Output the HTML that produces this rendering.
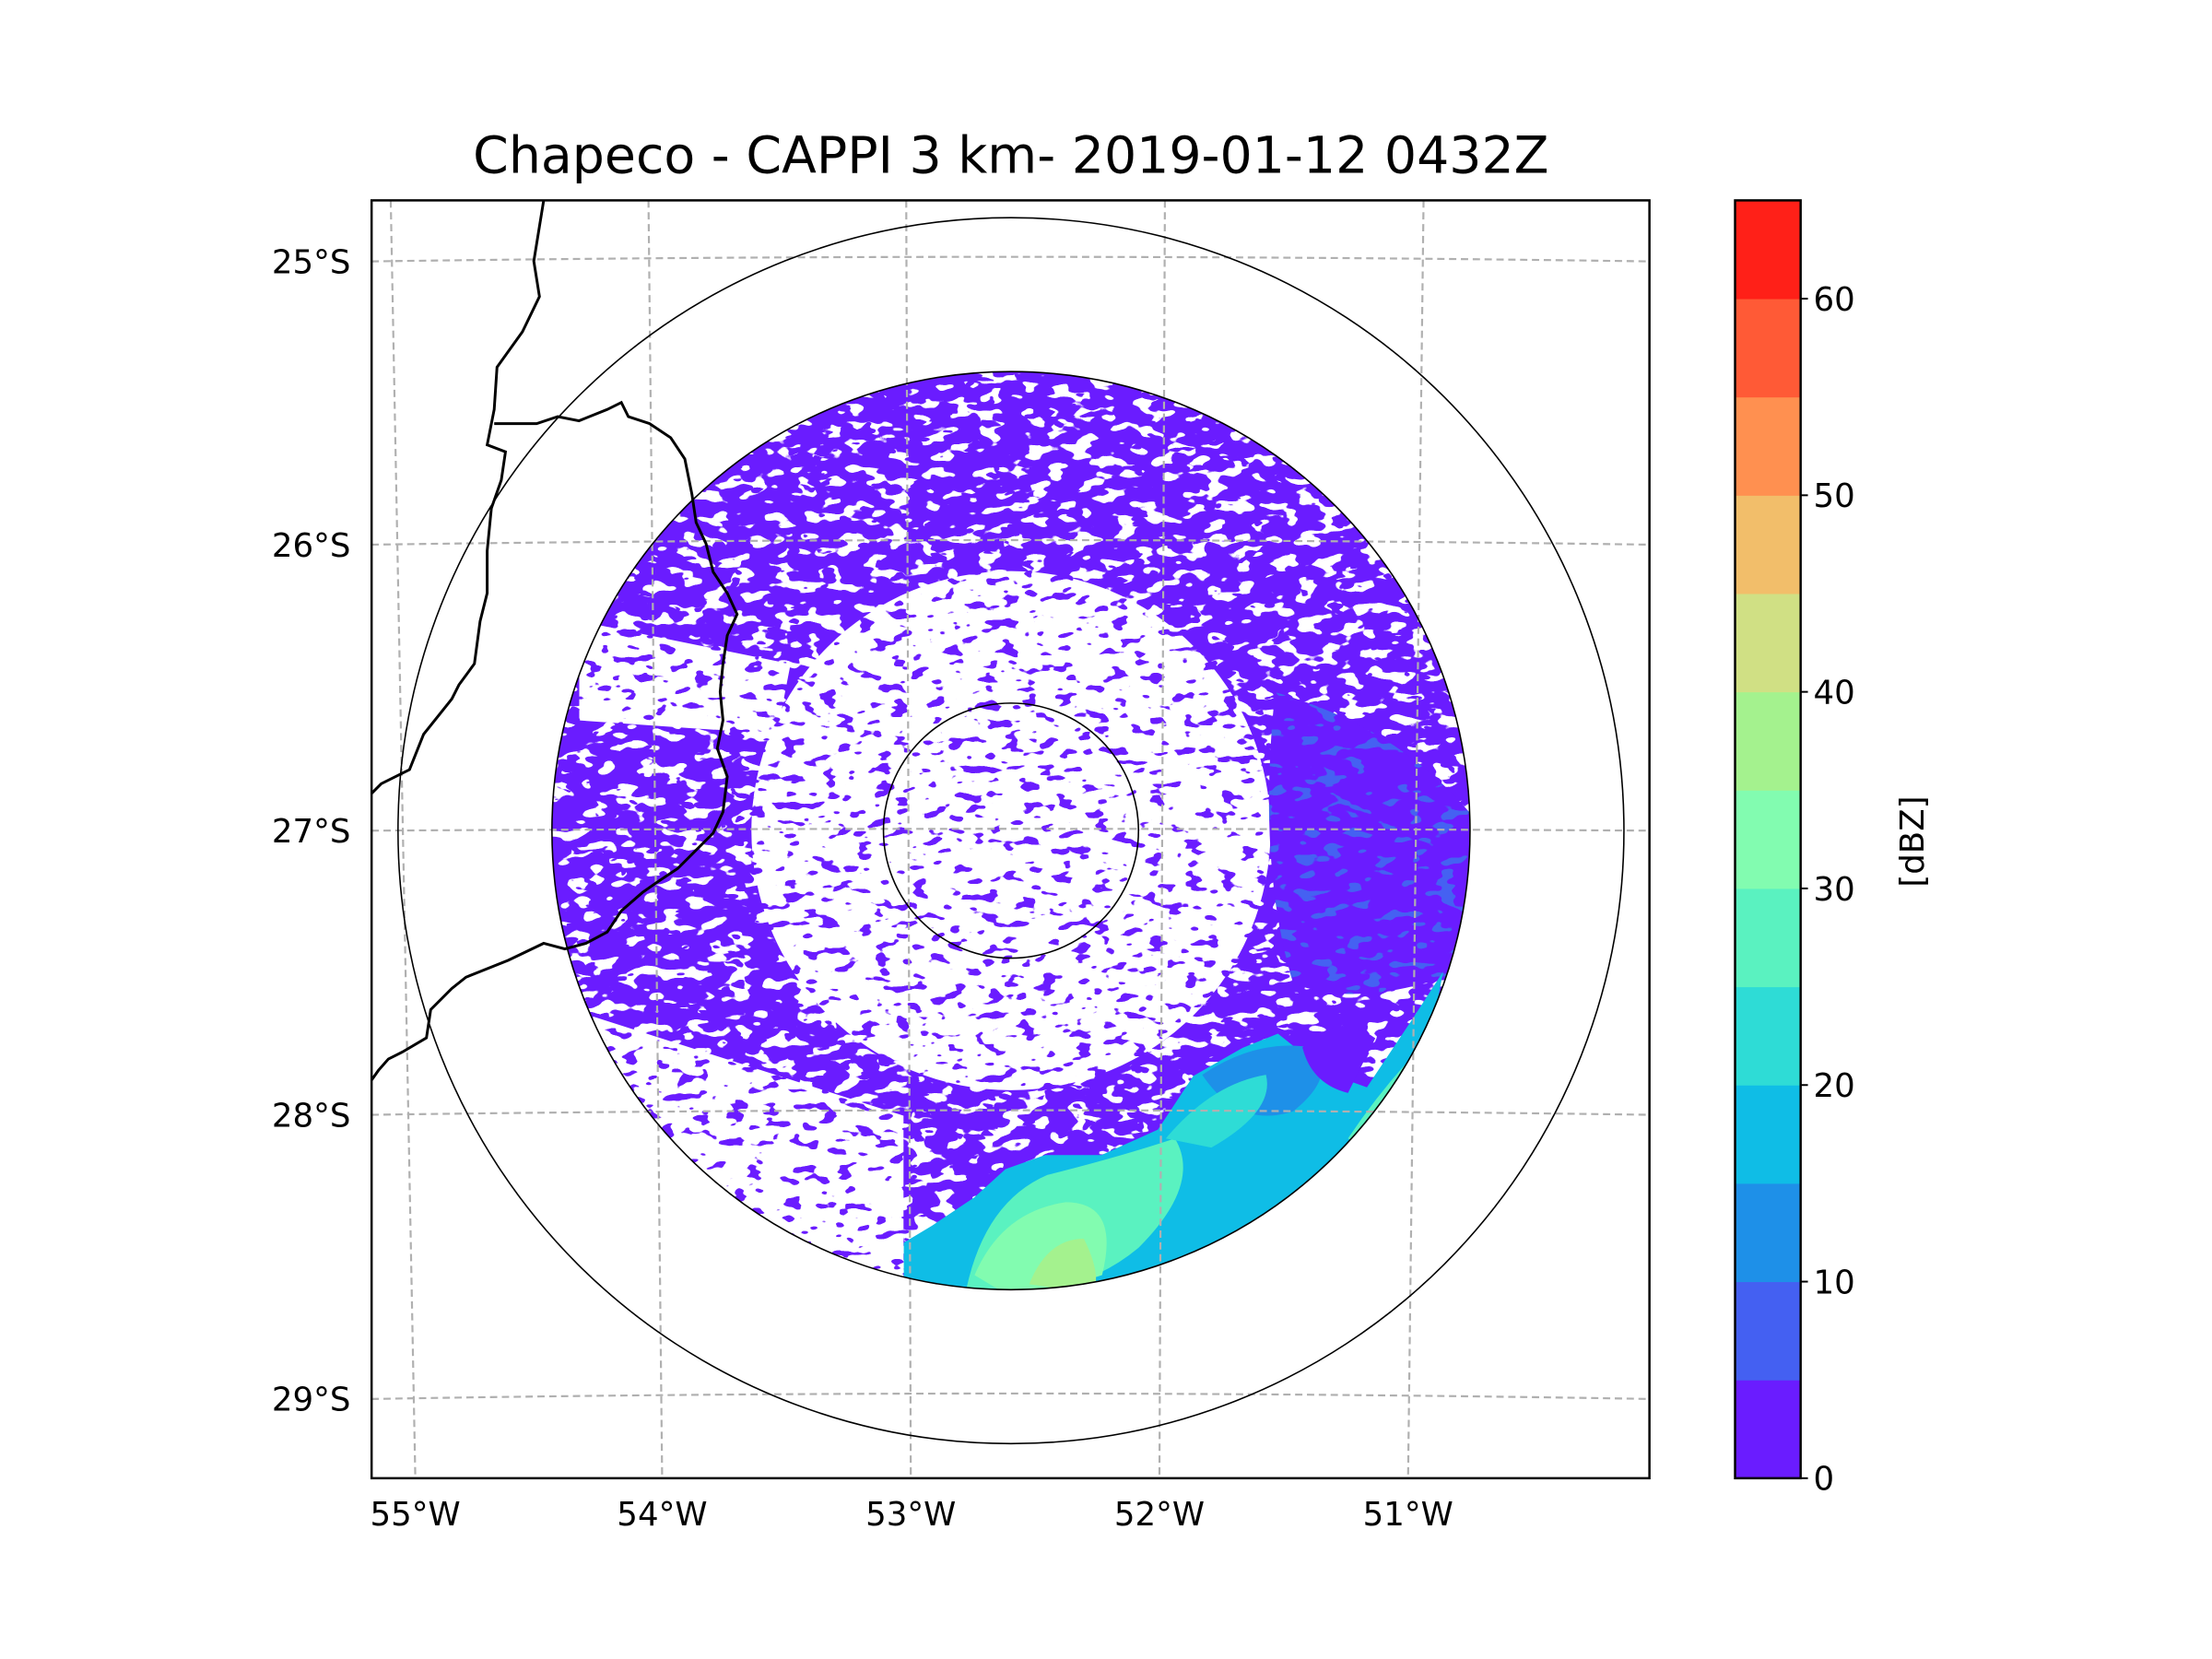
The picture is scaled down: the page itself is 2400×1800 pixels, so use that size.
<!DOCTYPE html>
<html><head><meta charset="utf-8"><style>
html,body{margin:0;padding:0;background:#fff;}
svg{display:block;font-family:"DejaVu Sans","Liberation Sans",sans-serif;}
</style></head><body>
<svg id="fig" width="2400" height="1800" viewBox="0 0 2400 1800">
<defs>
<clipPath id="plotclip"><rect x="408" y="220" width="1403" height="1403"/></clipPath>
<clipPath id="diskclip"><circle cx="1110" cy="912" r="504"/></clipPath>
<filter id="spkLow" x="0" y="0" width="100%" height="100%" color-interpolation-filters="sRGB">
<feTurbulence type="fractalNoise" baseFrequency="0.05 0.1" numOctaves="2" seed="4"/>
<feColorMatrix type="matrix" values="0 0 0 0 0.416  0 0 0 0 0.11  0 0 0 0 1  40 0 0 0 -24.4"/>
</filter>
<filter id="spkHigh" x="0" y="0" width="100%" height="100%" color-interpolation-filters="sRGB">
<feTurbulence type="fractalNoise" baseFrequency="0.04 0.08" numOctaves="2" seed="9"/>
<feColorMatrix type="matrix" values="0 0 0 0 0.416  0 0 0 0 0.11  0 0 0 0 1  40 0 0 0 -16.8"/>
</filter>
<filter id="spkEast" x="0" y="0" width="100%" height="100%" color-interpolation-filters="sRGB">
<feTurbulence type="fractalNoise" baseFrequency="0.04 0.08" numOctaves="2" seed="2"/>
<feColorMatrix type="matrix" values="0 0 0 0 0.27  0 0 0 0 0.38  0 0 0 0 0.95  40 0 0 0 -24"/>
</filter>
<mask id="ringmask">
<circle cx="1110" cy="912" r="504" fill="#fff"/>
<circle cx="1110" cy="912" r="285" fill="#000"/>
<path d="M 636 682 L 868 729 L 853 806 L 636 791 Z" fill="#000"/>
<path d="M 651 1116 L 992 1225 L 992 1420 L 667 1420 Z" fill="#000"/>
</mask>
<clipPath id="eastclip"><path d="M1400 760 Q1540 800 1620 900 L1620 1060 Q1500 1110 1420 1080 Q1380 950 1400 760Z"/></clipPath>
</defs>
<g id="axes" transform="scale(0.9882)"></g>
</svg>
<script>
// colorbar data
const levels = [0,5,10,15,20,25,30,35,40,45,50,55,60,65];
const levelColors = ["#6a1cff","#4460f2","#1e90e8","#0fbde6","#2edcd6","#5af2c0","#82fcb0","#a4f28e","#d0e084","#f2be6a","#ff9050","#ff5a36","#ff2018"];
const cbTicks = [0,10,20,30,40,50,60];
const lonTicks = ["55°W","54°W","53°W","52°W","51°W"];
const latTicks = ["25°S","26°S","27°S","28°S","29°S"];
const NS="http://www.w3.org/2000/svg";
const ax=document.getElementById('axes');
function el(t,a,p){const e=document.createElementNS(NS,t);for(const k in a)e.setAttribute(k,a[k]);(p||ax).appendChild(e);return e;}
const S=1.5504;
el('rect',{x:408,y:220,width:1403,height:1403,fill:'#fff'});
const g=el('g',{'clip-path':'url(#plotclip)'});
const d1=el('g',{'clip-path':'url(#diskclip)'},g);


el('rect',{x:600,y:400,width:1020,height:1020,filter:'url(#spkLow)'},d1);
const d2=el('g',{mask:'url(#ringmask)'},g);


el('rect',{x:600,y:400,width:1020,height:1020,filter:'url(#spkHigh)'},d2);
const d3=el('g',{'clip-path':'url(#diskclip)'},g);
const e0=el('g',{'clip-path':'url(#eastclip)'},d3);
el('rect',{x:1380,y:760,width:240,height:340,fill:'#6a1cff'},e0);
el('rect',{x:1380,y:760,width:240,height:340,filter:'url(#spkEast)'},e0);
const blobPts=[[640,880],[660,868],[690,848],[712,828],[740,818],[780,818],[820,800],[845,762],[880,742],[905,732],[940,760],[968,770],[1000,722],[1022,688],[1012,740],[990,790],[950,840],[900,880],[850,900],[780,912],[716,918],[660,913],[640,908]];
const bp='M'+blobPts.map(p=>(p[0]*S).toFixed(1)+' '+(p[1]*S).toFixed(1)).join(' L')+'Z';
const bl=el('path',{d:bp,fill:'#0fbde6'},d3);


el('path',{d:'M1320 1180 Q1380 1140 1440 1150 Q1470 1180 1420 1220 Q1360 1240 1320 1180Z',fill:'#1e90e8'},d3);
el('path',{d:'M1060 1420 Q1080 1320 1150 1290 Q1230 1270 1290 1250 Q1320 1300 1250 1370 Q1190 1420 1110 1416Z',fill:'#5af2c0'},d3);
el('path',{d:'M1070 1400 Q1100 1330 1170 1320 Q1230 1320 1210 1400 Q1150 1420 1100 1418Z',fill:'#82fcb0'},d3);
el('path',{d:'M1130 1410 Q1150 1360 1190 1360 Q1210 1400 1200 1420Z',fill:'#a4f28e'},d3);
el('path',{d:'M1280 1250 Q1330 1190 1390 1180 Q1400 1220 1330 1260Z',fill:'#2edcd6'},d3);
el('path',{d:'M1480 1250 Q1520 1190 1570 1140 L1585 1120 Q1560 1200 1500 1260Z',fill:'#5af2c0'},d3);
el('path',{d:'M1430 1150 Q1470 1110 1510 1140 L1480 1200 Q1440 1190 1430 1150Z',fill:'#6a1cff'},d3);
const lonTop=[429,712,995,1279,1563], lonBot=[456,727,1000,1273,1546];
const latL=[287,598,912,1224,1536], latM=[282,593,910,1219,1530];
for(let i=0;i<5;i++){
 const l=el('line',{x1:lonTop[i],y1:220,x2:lonBot[i],y2:1623,stroke:'#b0b0b0','stroke-width':2.2,'stroke-dasharray':'8 5'},g);
 
 const m=el('path',{d:`M408 ${latL[i]} Q1110 ${2*latM[i]-latL[i]} 1811 ${latL[i]}`,fill:'none',stroke:'#b0b0b0','stroke-width':2.2,'stroke-dasharray':'8 5'},g);
 
}
[673,504,140].forEach(r=>{const c=el('circle',{cx:1110,cy:912,r:r,fill:'none',stroke:'#000','stroke-width':1.6},g);
 });
const b1=[[385,142],[378,185],[382,210],[370,235],[352,260],[350,290],[345,315],[358,320],[355,340],[348,360],[345,390],[345,420],[340,440],[336,470],[325,485],[320,495],[300,520],[290,545],[270,555],[263,562]];
const b2=[[350,300],[380,300],[395,295],[410,298],[430,290],[440,285],[445,295],[460,300],[475,310],[485,325],[490,350],[493,370],[500,385],[505,405],[515,420],[522,435],[515,450],[512,470],[510,490],[512,510],[508,530],[515,550],[512,575],[505,590],[490,605],[480,615],[465,625],[455,632],[440,645],[430,660],[415,668],[400,672],[385,668],[360,680],[340,688],[330,692],[320,700],[305,715],[302,735],[285,745],[275,750],[268,758],[263,765]];
[b1,b2].forEach(b=>{const p=el('path',{d:'M'+b.map(q=>(q[0]*S).toFixed(1)+' '+(q[1]*S).toFixed(1)).join(' L'),fill:'none',stroke:'#000','stroke-width':3},g);
 });
el('rect',{x:408,y:220,width:1403,height:1403,fill:'none',stroke:'#000','stroke-width':2.5});
for(let i=0;i<5;i++){
 const t=el('text',{x:lonBot[i],y:1675,'font-size':36,'text-anchor':'middle'});t.textContent=lonTicks[i];
 
 const u=el('text',{x:385,y:latL[i]+13,'font-size':36,'text-anchor':'end'});u.textContent=latTicks[i];
 
}
const tt=el('text',{x:1110,y:190,'font-size':56,'text-anchor':'middle'});tt.textContent='Chapeco - CAPPI 3 km- 2019-01-12 0432Z';

const cbX=1905,cbW=72,cbT=220,cbB=1623;
const cy=v=>cbB-(v-levels[0])/(levels[levels.length-1]-levels[0])*(cbB-cbT);
for(let i=0;i<levelColors.length;i++){
 const r=el('rect',{x:cbX,y:cy(levels[i+1]),width:cbW,height:cy(levels[i])-cy(levels[i+1])+0.5,fill:levelColors[i]});
 
}
el('rect',{x:cbX,y:cbT,width:cbW,height:cbB-cbT,fill:'none',stroke:'#000','stroke-width':2.5});
cbTicks.forEach(v=>{
 el('line',{x1:cbX+cbW,y1:cy(v),x2:cbX+cbW+8,y2:cy(v),stroke:'#000','stroke-width':2});
 const t=el('text',{x:cbX+cbW+14,y:cy(v)+13,'font-size':36});t.textContent=v;
 
});
const cl=el('text',{x:2112,y:924,'font-size':36,'text-anchor':'middle',transform:'rotate(-90 2112 924)'});cl.textContent='[dBZ]';

</script>
</body></html>
